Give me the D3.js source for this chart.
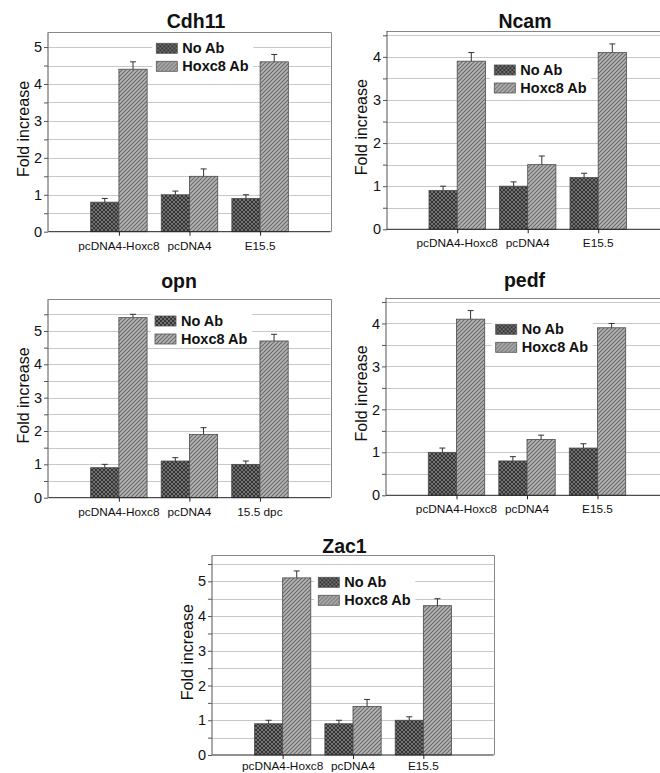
<!DOCTYPE html>
<meta charset="utf-8">
<style>
body { margin: 0; background: #fff; }
text { font-family: "Liberation Sans", Arial, sans-serif; fill: #111; }
.grid line { stroke: #c8c8c8; stroke-width: 1px; }
.frame { fill: none; stroke: #888; stroke-width: 1px; }
.err { stroke: #333; stroke-width: 1px; }
</style>
<svg width="660" height="773"></svg>
<script src="https://d3js.org/d3.v7.min.js"></script>
<script>

var genes = ["Cdh11", "Ncam", "opn", "pedf", "Zac1"];
var series = ["No Ab", "Hoxc8 Ab"];
var categories = [
  ["pcDNA4-Hoxc8", "pcDNA4", "E15.5"],
  ["pcDNA4-Hoxc8", "pcDNA4", "E15.5"],
  ["pcDNA4-Hoxc8", "pcDNA4", "15.5 dpc"],
  ["pcDNA4-Hoxc8", "pcDNA4", "E15.5"],
  ["pcDNA4-Hoxc8", "pcDNA4", "E15.5"]
];
var noAb     = [[0.8, 1.0, 0.9], [0.9, 1.0, 1.2], [0.9, 1.1, 1.0], [1.0, 0.8, 1.1], [0.9, 0.9, 1.0]];
var noAbErr  = [[0.1, 0.1, 0.1], [0.1, 0.1, 0.1], [0.1, 0.1, 0.1], [0.1, 0.1, 0.1], [0.1, 0.1, 0.1]];
var hoxc8Ab  = [[4.4, 1.5, 4.6], [3.9, 1.5, 4.1], [5.4, 1.9, 4.7], [4.1, 1.3, 3.9], [5.1, 1.4, 4.3]];
var hoxc8Err = [[0.2, 0.2, 0.2], [0.2, 0.2, 0.2], [0.1, 0.2, 0.2], [0.2, 0.1, 0.1], [0.2, 0.2, 0.2]];
var yMax = [5.4, 4.6, 5.95, 4.6, 5.75];

// where each panel sits on the page
var layout = [
  {left: 48.3,  right: 330.7, top: 32.3,  bottom: 231.7, tx: 196,   ty: 28,    lx: 108,   ly: 16,   cy: 18},
  {left: 386.7, right: 668.7, top: 31,    bottom: 229.3, tx: 525,   ty: 28,    lx: 107.6, ly: 39,   cy: 18},
  {left: 48.3,  right: 330.5, top: 299.3, bottom: 497.7, tx: 179,   ty: 287.5, lx: 106.7, ly: 21.7, cy: 18},
  {left: 386,   right: 668,   top: 297.7, bottom: 495.3, tx: 524.5, ty: 286.5, lx: 109.7, ly: 31.6, cy: 18},
  {left: 212.3, right: 493.7, top: 555.3, bottom: 755,   tx: 344.5, ty: 552.5, lx: 106,   ly: 27,   cy: 15}
];

var svg = d3.select("svg");
var defs = svg.append("defs");

// cross hatch for No Ab
var p1 = defs.append("pattern")
    .attr("id", "cross")
    .attr("patternUnits", "userSpaceOnUse")
    .attr("width", 4).attr("height", 4);
p1.append("rect").attr("width", 4).attr("height", 4).attr("fill", "#353535");
p1.append("path").attr("d", "M0,0L4,4M4,0L0,4")
    .attr("stroke", "#777").attr("stroke-width", 0.9);

// diagonal stripes for Hoxc8 Ab
var p2 = defs.append("pattern")
    .attr("id", "stripe")
    .attr("patternUnits", "userSpaceOnUse")
    .attr("width", 4).attr("height", 4);
p2.append("rect").attr("width", 4).attr("height", 4).attr("fill", "#b4b4b4");
p2.append("path").attr("d", "M-1,1L1,-1M0,4L4,0M3,5L5,3")
    .attr("stroke", "#6a6a6a").attr("stroke-width", 1.1);

var fills = ["url(#cross)", "url(#stripe)"];

genes.forEach(function(gene, gi) {
  var L = layout[gi];
  var g = svg.append("g");

  var x = d3.scaleLinear().domain([0, 4]).range([L.left, L.right]);
  var y = d3.scaleLinear().domain([0, yMax[gi]]).range([L.bottom, L.top]);
  var step = x(1) - x(0);
  var bw = step * 0.4;

  // gridlines every 0.5
  var gridVals = d3.range(0.5, yMax[gi], 0.5);
  g.append("g").attr("class", "grid")
    .selectAll("line").data(gridVals).enter().append("line")
      .attr("x1", L.left).attr("x2", L.right)
      .attr("y1", function(d) { return Math.round(y(d)) + 0.5; })
      .attr("y2", function(d) { return Math.round(y(d)) + 0.5; });

  // top + right border
  g.append("path").attr("class", "frame")
    .attr("d", "M" + L.left + "," + (Math.round(L.top) + 0.5) + "H" + (Math.round(L.right) + 0.5) + "V" + L.bottom);

  // legend
  var lg = g.append("g").attr("transform", "translate(" + (L.left + L.lx) + "," + (L.top + L.ly) + ")");
  lg.append("rect").attr("x", -4).attr("y", -8).attr("width", 101).attr("height", 34).attr("fill", "#fff");
  series.forEach(function(s, si) {
    lg.append("rect")
      .attr("x", 0).attr("y", si * 18 - 5)
      .attr("width", 21).attr("height", 10)
      .attr("fill", fills[si]).attr("stroke", "#555").attr("stroke-width", 0.8);
    lg.append("text")
      .attr("x", 26).attr("y", si * 18 + 5)
      .style("font-size", "14.5px").style("font-weight", "bold")
      .text(s);
  });

  // bars
  var vals = [noAb[gi], hoxc8Ab[gi]];
  var errs = [noAbErr[gi], hoxc8Err[gi]];
  var bars = [];
  vals.forEach(function(v, si) {
    v.forEach(function(d, ci) {
      bars.push({si: si, ci: ci, v: d, e: errs[si][ci]});
    });
  });

  g.selectAll(".bar").data(bars).enter().append("rect")
    .attr("x", function(d) { return x(d.ci + 1) - bw + d.si * bw; })
    .attr("y", function(d) { return y(d.v); })
    .attr("width", bw)
    .attr("height", function(d) { return y(0) - y(d.v); })
    .attr("fill", function(d) { return fills[d.si]; })
    .attr("stroke", "#4a4a4a").attr("stroke-width", 0.8);

  // error bars (upper only)
  var eb = g.selectAll(".eb").data(bars).enter().append("g");
  eb.append("line").attr("class", "err")
    .attr("x1", function(d) { return x(d.ci + 1) - bw / 2 + d.si * bw; })
    .attr("x2", function(d) { return x(d.ci + 1) - bw / 2 + d.si * bw; })
    .attr("y1", function(d) { return y(d.v); })
    .attr("y2", function(d) { return y(d.v + d.e); });
  eb.append("line").attr("class", "err")
    .attr("x1", function(d) { return x(d.ci + 1) - bw / 2 + d.si * bw - 3; })
    .attr("x2", function(d) { return x(d.ci + 1) - bw / 2 + d.si * bw + 3; })
    .attr("y1", function(d) { return y(d.v + d.e); })
    .attr("y2", function(d) { return y(d.v + d.e); });

  // y axis
  var yAxis = d3.axisLeft(y)
    .tickValues(d3.range(0, yMax[gi], 0.5))
    .tickSize(4)
    .tickFormat(function(d) { return d % 1 === 0 ? d : ""; });
  var ya = g.append("g").attr("transform", "translate(" + Math.round(L.left) + ",0)").call(yAxis);
  ya.select(".domain").attr("stroke", "#555").attr("d", "M0," + L.top + "V" + L.bottom);
  ya.selectAll(".tick line").attr("stroke", "#555");
  ya.selectAll("text")
    .style("font-size", "14.5px")
    .attr("font-family", null)
    .attr("fill", "#111")
    .attr("x", -6);

  // x axis
  var xAxis = d3.axisBottom(x).tickValues([1, 2, 3]).tickSize(4).tickFormat("");
  var xa = g.append("g").attr("transform", "translate(0," + L.bottom + ")").call(xAxis);
  xa.select(".domain").attr("stroke", "#222").attr("d", "M" + L.left + ",0H" + L.right);
  xa.selectAll(".tick line").attr("stroke", "#222");

  g.selectAll(".cat").data(categories[gi]).enter().append("text")
    .attr("x", function(d, i) { return x(i + 1); })
    .attr("y", L.bottom + L.cy)
    .attr("text-anchor", "middle")
    .style("font-size", "11.8px")
    .text(function(d) { return d; });

  // y label
  g.append("text")
    .attr("transform", "translate(" + (L.left - 19.5) + "," + ((L.top + L.bottom) / 2 - 3) + ") rotate(-90)")
    .attr("text-anchor", "middle")
    .style("font-size", "16px")
    .text("Fold increase");

  // title
  g.append("text")
    .attr("x", L.tx).attr("y", L.ty)
    .attr("text-anchor", "middle")
    .style("font-size", "19.5px").style("font-weight", "bold")
    .text(gene);
});

</script>
